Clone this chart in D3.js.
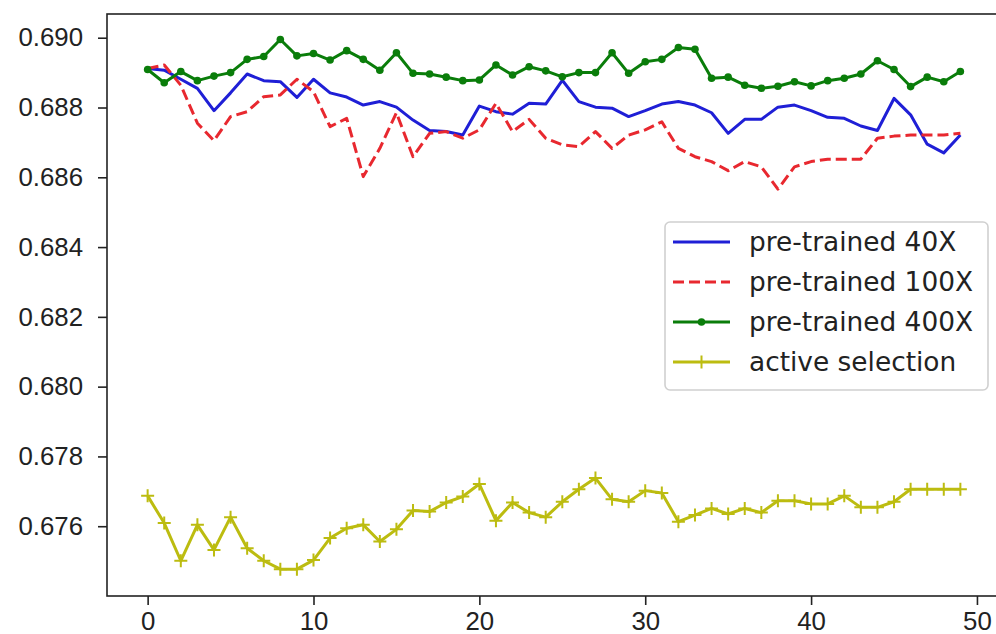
<!DOCTYPE html>
<html>
<head>
<meta charset="utf-8">
<script src="https://cdn.jsdelivr.net/npm/d3@7"></script>
<style>
  body { margin: 0; background: #fff; }
  svg { display: block; font-family: "DejaVu Sans", sans-serif; }
</style>
</head>
<body>
<svg id="chart" width="996" height="634"></svg>
<script>
// values, one per epoch (0..49)
var pretrained40 = [0.68912,0.68907,0.68881,0.68855,0.68791,0.68842,0.68896,0.68877,0.68874,0.68829,
  0.68881,0.68842,0.68830,0.68807,0.68817,0.68801,0.68764,0.68734,0.68731,0.68721,
  0.68804,0.68788,0.68781,0.68812,0.68810,0.68878,0.68817,0.68801,0.68798,0.68774,
  0.68791,0.68810,0.68817,0.68807,0.68785,0.68726,0.68766,0.68766,0.68801,0.68807,
  0.68791,0.68772,0.68769,0.68747,0.68734,0.68826,0.68779,0.68695,0.68670,0.68721];

var pretrained100 = [0.68912,0.68922,0.68864,0.68755,0.68705,0.68774,0.68788,0.68831,0.68836,0.68881,
  0.68845,0.68745,0.68769,0.68602,0.68683,0.68785,0.68659,0.68726,0.68731,0.68712,
  0.68736,0.68812,0.68731,0.68766,0.68712,0.68693,0.68688,0.68731,0.68683,0.68721,
  0.68736,0.68759,0.68683,0.68659,0.68645,0.68619,0.68645,0.68630,0.68566,0.68630,
  0.68645,0.68652,0.68652,0.68652,0.68712,0.68718,0.68721,0.68721,0.68721,0.68726];

var pretrained400 = [0.68909,0.68871,0.68903,0.68877,0.68890,0.68900,0.68938,0.68946,0.68995,0.68948,
  0.68955,0.68936,0.68963,0.68938,0.68907,0.68957,0.68898,0.68896,0.68887,0.68877,
  0.68879,0.68922,0.68893,0.68917,0.68905,0.68888,0.68900,0.68900,0.68957,0.68898,
  0.68931,0.68938,0.68972,0.68967,0.68884,0.68887,0.68864,0.68855,0.68861,0.68874,
  0.68862,0.68877,0.68884,0.68896,0.68934,0.68909,0.68860,0.68887,0.68874,0.68903];

var activeSelection = [0.67687,0.67609,0.67501,0.67604,0.67532,0.67626,0.67537,0.67501,0.67477,0.67477,
  0.67503,0.67566,0.67594,0.67604,0.67556,0.67591,0.67645,0.67642,0.67668,0.67685,
  0.67721,0.67616,0.67668,0.67639,0.67626,0.67670,0.67706,0.67738,0.67677,0.67670,
  0.67702,0.67695,0.67613,0.67632,0.67651,0.67635,0.67651,0.67639,0.67673,0.67673,
  0.67664,0.67664,0.67687,0.67654,0.67654,0.67670,0.67706,0.67706,0.67706,0.67706];

var seriesNames = ["pre-trained 40X", "pre-trained 100X", "pre-trained 400X", "active selection"];
var xTicks = [0, 10, 20, 30, 40, 50];
var yTicks = [0.676, 0.678, 0.680, 0.682, 0.684, 0.686, 0.688, 0.690];

// styles per series (matplotlib b-, r--, g.-, y+-)
var series = [
  { name: seriesNames[0], values: pretrained40, color: "#1f1fd6", dash: null, marker: null },
  { name: seriesNames[1], values: pretrained100, color: "#e8282f", dash: "11,5", marker: null },
  { name: seriesNames[2], values: pretrained400, color: "#0a7d0a", dash: null, marker: "dot" },
  { name: seriesNames[3], values: activeSelection, color: "#bcbc10", dash: null, marker: "plus" }
];

var svg = d3.select("#chart");
// note: "top" is taken by window.top, so use plot* names
var plotLeft = 107, plotRight = 1001, plotTop = 14, plotBottom = 596;

var x = d3.scaleLinear().domain([-2.45, 51.45]).range([plotLeft, plotRight]);
var y = d3.scaleLinear().domain([0.674, 0.69068]).range([plotBottom, plotTop]);

// axes
var xAxis = svg.append("g")
  .attr("transform", "translate(0," + plotBottom + ")")
  .call(d3.axisBottom(x).tickValues(xTicks).tickFormat(d3.format("d")).tickSizeInner(9).tickSizeOuter(0).tickPadding(7));

var yAxis = svg.append("g")
  .attr("transform", "translate(" + plotLeft + ",0)")
  .call(d3.axisLeft(y).tickValues(yTicks).tickFormat(d3.format(".3f")).tickSizeInner(9).tickSizeOuter(0).tickPadding(15));

[xAxis, yAxis].forEach(function(a) {
  a.select(".domain").remove();
  a.selectAll(".tick line").attr("stroke", "#222").attr("stroke-width", 1.6);
  a.selectAll(".tick text").attr("fill", "#222").style("font-size", "25.8px");
});

// lines
var line = d3.line()
  .x(function(d, i) { return x(i); })
  .y(function(d) { return y(d); });

series.forEach(function(s) {
  svg.append("path")
    .datum(s.values)
    .attr("fill", "none")
    .attr("stroke", s.color)
    .attr("stroke-width", 3)
    .attr("stroke-dasharray", s.dash)
    .attr("stroke-linejoin", "round")
    .attr("d", line);

  if (s.marker == "dot") {
    svg.append("g").selectAll("circle")
      .data(s.values)
      .join("circle")
      .attr("cx", function(d, i) { return x(i); })
      .attr("cy", function(d) { return y(d); })
      .attr("r", 3.8)
      .attr("fill", s.color);
  }
  if (s.marker == "plus") {
    svg.append("g").selectAll("path")
      .data(s.values)
      .join("path")
      .attr("d", function(d, i) {
        var cx = x(i), cy = y(d), h = 6.5;
        return "M" + (cx - h) + "," + cy + "H" + (cx + h) + "M" + cx + "," + (cy - h) + "V" + (cy + h);
      })
      .attr("stroke", s.color)
      .attr("stroke-width", 2);
  }
});

// spines
svg.append("rect")
  .attr("x", plotLeft).attr("y", plotTop)
  .attr("width", plotRight - plotLeft).attr("height", plotBottom - plotTop)
  .attr("fill", "none")
  .attr("stroke", "#222")
  .attr("stroke-width", 1.6);

// legend, center right
var lg = svg.append("g").attr("transform", "translate(665,222)");
lg.append("rect")
  .attr("width", 323).attr("height", 168)
  .attr("rx", 5)
  .attr("fill", "#fff").attr("fill-opacity", 0.8)
  .attr("stroke", "#d0d0d0").attr("stroke-width", 1.6);

series.forEach(function(s, i) {
  var ly = 20 + i * 40;
  lg.append("line")
    .attr("x1", 8).attr("x2", 65)
    .attr("y1", ly).attr("y2", ly)
    .attr("stroke", s.color)
    .attr("stroke-width", 3)
    .attr("stroke-dasharray", s.dash);
  if (s.marker == "dot") {
    lg.append("circle").attr("cx", 36.5).attr("cy", ly).attr("r", 3.8).attr("fill", s.color);
  }
  if (s.marker == "plus") {
    lg.append("path")
      .attr("d", "M30," + ly + "H43M36.5," + (ly - 6.5) + "V" + (ly + 6.5))
      .attr("stroke", s.color).attr("stroke-width", 2);
  }
  lg.append("text")
    .attr("x", 84).attr("y", ly)
    .attr("dy", "0.35em")
    .attr("fill", "#222")
    .style("font-size", "26.4px")
    .text(s.name);
});
</script>
</body>
</html>
